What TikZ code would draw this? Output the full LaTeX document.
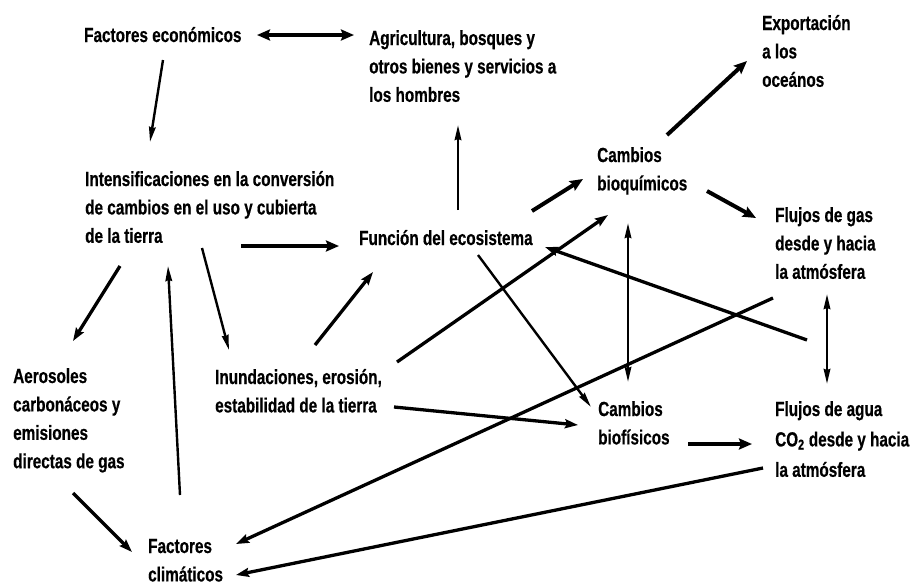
\documentclass[tikz,border=0pt]{standalone}
\usepackage{fontspec}
\setmainfont{Liberation Sans}[FakeStretch=0.75, FakeBold=0.5]
\usetikzlibrary{arrows.meta}
\tikzset{txt/.style={anchor=base west, inner sep=0pt, align=left,
   font=\bfseries\fontsize{20.4}{28.4}\selectfont},
 big/.style={line width=4pt, >={Stealth[length=13pt,width=11pt,inset=2pt]}, ->},
 mid/.style={line width=3.3pt, >={Stealth[length=13pt,width=9pt,inset=2pt]}, ->},
 slim/.style={line width=2.4pt, >={Stealth[length=15pt,width=6.5pt,inset=1pt]}, ->},
 }

\begin{document}
\begin{tikzpicture}[x=1pt, y=-1pt]
        \useasboundingbox (0,0) rectangle (914,584);
        % texts (placed at the baseline of their last line)
        \node[txt] (econ) at (84,42) {Factores económicos};
        \node[txt] (agri) at (369,101.8) {Agricultura, bosques y\\ otros bienes y servicios a\\ los hombres};
        \node[txt] (expo) at (762,86.8) {Exportación\\ a los\\ oceános};
        \node[txt] (intens) at (85,242.8) {Intensificaciones en la conversión\\ de cambios en el uso y cubierta\\ de la tierra};
        \node[txt] (func) at (359,245) {Función del ecosistema};
        \node[txt] (bioq) at (597,190.4) {Cambios\\ bioquímicos};
        \node[txt] (gas) at (775,278.8) {Flujos de gas\\ desde y hacia\\ la atmósfera};
        \node[txt] (aeros) at (13,468.2) {Aerosoles\\ carbonáceos y\\ emisiones\\ directas de gas};
        \node[txt] (inund) at (215,412.4) {Inundaciones, erosión,\\ estabilidad de la tierra};
        \node[txt] (biof) at (598,444.4) {Cambios\\ biofísicos};
        \node[txt] (agua) at (775,476.8) {Flujos de agua\\[2pt] CO\textsubscript{2} desde y hacia\\[2pt] la atmósfera};
        \node[txt] (clim) at (148,581.4) {Factores\\ climáticos};

        % arrows
        \draw[big, <->] ([shift={(173,-7)}]econ.base west) -- ([shift={(-15,-66.8)}]agri.base west);
        \draw[slim] ([shift={(79,18)}]econ.base west) -- ([shift={(65,-100.8)}]intens.base west);
        \draw[slim] ([shift={(99,-35)}]func.base west) -- ([shift={(89,23.2)}]agri.base west);
        \draw[big] ([shift={(70,-55.4)}]bioq.base west) -- ([shift={(-15,-25.8)}]expo.base west);
        \draw[big] ([shift={(173,-34)}]func.base west) -- ([shift={(-14,-11.4)}]bioq.base west);
        \draw[big] ([shift={(110,0.6)}]bioq.base west) -- ([shift={(-19,-60.8)}]gas.base west);
        \draw[big] ([shift={(156,3.2)}]intens.base west) -- ([shift={(-20,1)}]func.base west);
        \draw[mid] ([shift={(35,23.2)}]intens.base west) -- ([shift={(60,-127.2)}]aeros.base west);
        \draw[slim] ([shift={(32,-86.4)}]clim.base west) -- ([shift={(83,23.2)}]intens.base west);
        \draw[slim] ([shift={(117,5.2)}]intens.base west) -- ([shift={(14,-62.4)}]inund.base west);
        \draw[mid] ([shift={(100,-67.4)}]inund.base west) -- ([shift={(14,27)}]func.base west);
        \draw[mid] ([shift={(182,-50.4)}]inund.base west) -- ([shift={(11,24.6)}]bioq.base west);
        \draw[mid] ([shift={(32,61.2)}]gas.base west) -- ([shift={(186,2)}]func.base west);
        \draw[slim, <->] ([shift={(31,32.6)}]bioq.base west) -- ([shift={(30,-62.4)}]biof.base west);
        \draw[slim, <->] ([shift={(52,15.2)}]gas.base west) -- ([shift={(52,-92.8)}]agua.base west);
        \draw[slim] ([shift={(119,10)}]func.base west) -- ([shift={(-7,-37.4)}]biof.base west);
        \draw[mid] ([shift={(179,-5.4)}]inund.base west) -- ([shift={(-20,-19.4)}]biof.base west);
        \draw[big] ([shift={(90,-0.4)}]biof.base west) -- ([shift={(-23,-32.8)}]agua.base west);
        \draw[mid] ([shift={(-2,19.2)}]gas.base west) -- ([shift={(88,-37.4)}]clim.base west);
        \draw[mid] ([shift={(-12,-8.8)}]agua.base west) -- ([shift={(88,-6.4)}]clim.base west);
        \draw[mid] ([shift={(60,24.8)}]aeros.base west) -- ([shift={(-16,-29.4)}]clim.base west);
    \end{tikzpicture}
\end{document}
